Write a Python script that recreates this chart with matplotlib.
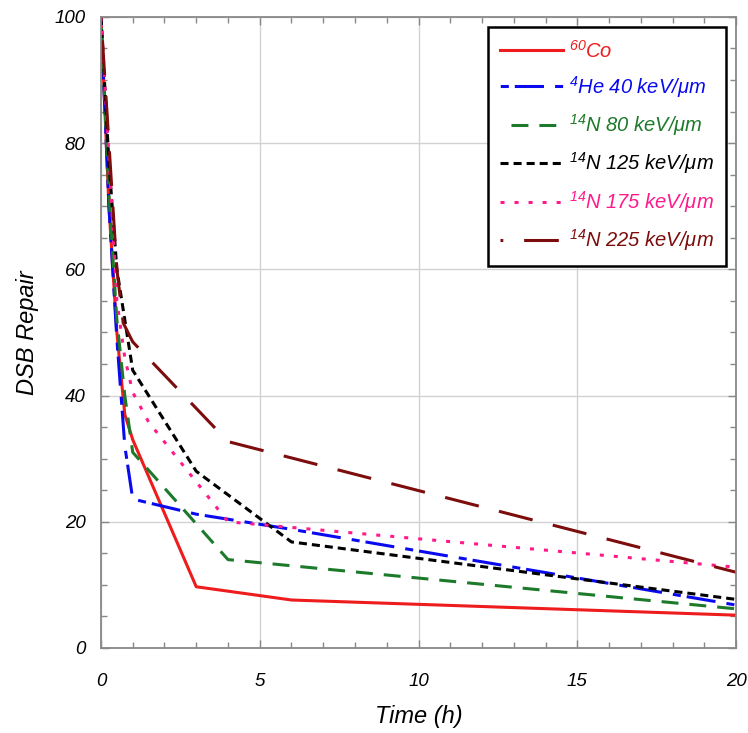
import matplotlib
matplotlib.use("Agg")
import matplotlib.pyplot as plt
from matplotlib.ticker import MultipleLocator

plt.rcParams['font.family'] = ['Liberation Sans', 'DejaVu Sans']
plt.rcParams['font.style'] = 'italic'
plt.rcParams['mathtext.fontset'] = 'custom'
plt.rcParams['mathtext.rm'] = 'Liberation Sans:italic'
plt.rcParams['mathtext.it'] = 'Liberation Sans:italic'
plt.rcParams['lines.scale_dashes'] = False

# data
co_t = [0, 0.25, 0.5, 0.75, 1, 3, 6, 20]
co_y = [100, 70, 50, 37, 33, 9.7, 7.6, 5.2]

he40_t = [0, 0.25, 0.5, 0.75, 1, 3, 6, 20]
he40_y = [100, 70, 49, 32, 23.6, 21.2, 18.8, 6.8]

n80_t = [0, 0.25, 0.5, 0.75, 1, 4, 20]
n80_y = [100, 72, 52, 40, 31, 14, 6.2]

n125_t = [0, 0.25, 0.5, 1, 3, 6, 20]
n125_y = [100, 77, 60, 44, 28, 16.8, 7.7]

n175_t = [0, 0.25, 0.5, 0.75, 1, 1.5, 4, 20]
n175_y = [100, 78, 55, 46, 40.5, 35.8, 20, 12.8]

n225_t = [0, 0.25, 0.5, 0.7, 1, 4, 20]
n225_y = [100, 80, 60, 51.5, 48.5, 32.7, 12]

labels = [r'$^{60}$Co', r'$^{4}$He 40 keV/μm', r'$^{14}$N 80 keV/μm',
          r'$^{14}$N 125 keV/μm', r'$^{14}$N 175 keV/μm', r'$^{14}$N 225 keV/μm']
colors = ['#ee1c1c', '#0a0aee', '#1c7a2a', '#000000', '#ff1a8c', '#7d0c0c']
styles = ['-', (28.8, [21, 8, 5.8, 4.3]), (12.2, [12.2, 7.9]), (0, [5.8, 3.6]),
          (0, [2.9, 7.2]), (23, [25, 15])]
series = [(co_t, co_y), (he40_t, he40_y), (n80_t, n80_y),
          (n125_t, n125_y), (n175_t, n175_y), (n225_t, n225_y)]

fig = plt.figure(figsize=(7.48, 7.33), dpi=100)
ax = fig.add_axes([0.135, 0.116, 0.849, 0.861])

for (t, y), lab, c, ls in zip(series, labels, colors, styles):
    ax.plot(t, y, color=c, linestyle=ls, linewidth=2.2, label=lab)

ax.set_xlim(0, 20)
ax.set_ylim(0, 100)
ax.xaxis.set_major_locator(MultipleLocator(5))
ax.xaxis.set_minor_locator(MultipleLocator(1))
ax.yaxis.set_major_locator(MultipleLocator(20))
ax.yaxis.set_minor_locator(MultipleLocator(5))
ax.grid(True, which='major', color='#d2d2d2', linewidth=1)
ax.set_axisbelow(True)

ax.tick_params(which='both', direction='in', top=True, right=True,
               color='#888888', labelsize=13.5)
ax.tick_params(which='major', length=6, width=1)
ax.tick_params(which='minor', length=4, width=1)
ax.tick_params(axis='x', pad=18)
ax.tick_params(axis='y', pad=11)
for s in ax.spines.values():
    s.set_color('#888888')
    s.set_linewidth(1.3)

ax.set_xlabel('Time (h)', fontsize=17, labelpad=11)
ax.set_ylabel('DSB Repair', fontsize=17, labelpad=11)

leg = ax.legend(loc='upper right', fontsize=14.5, handlelength=3.1,
                handletextpad=0.3, labelspacing=0.62, borderpad=0.62,
                borderaxespad=0.5, fancybox=False, framealpha=1,
                edgecolor='black', labelcolor='linecolor')
leg.get_frame().set_linewidth(1.8)

fig.savefig('out.png', dpi=100)
